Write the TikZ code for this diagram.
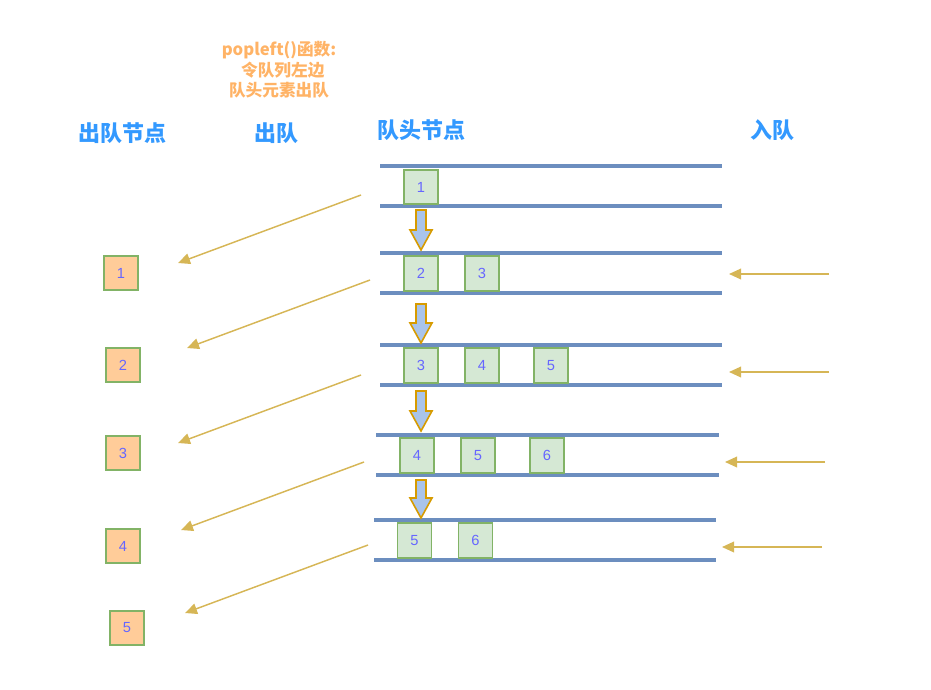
\documentclass[tikz,border=0pt]{standalone}
\usepackage{fontspec}
\setmainfont{Liberation Sans}
\newfontfamily\cjk{Noto Sans CJK SC}
\usetikzlibrary{arrows.meta}
\definecolor{qblue}{HTML}{6C8EBF}
\definecolor{gfill}{HTML}{D5E8D4}
\definecolor{gdraw}{HTML}{82B366}
\definecolor{ofill}{HTML}{FFCC99}
\definecolor{gold}{HTML}{D6B656}
\definecolor{afill}{HTML}{A9C4EB}
\definecolor{adraw}{HTML}{D79B00}
\definecolor{ttl}{HTML}{3399FF}
\definecolor{note}{HTML}{FFB366}
\definecolor{num}{HTML}{6666FF}
\begin{document}
\begin{tikzpicture}[x=0.75pt,y=-0.75pt,
  qbox/.style={draw=gdraw,fill=gfill,line width=1.3pt,minimum width=25.5pt,minimum height=26pt,inner sep=0pt,text=num,font=\fontsize{11}{12}\selectfont},
  obox/.style={qbox,fill=ofill},
  qline/.style={draw=qblue,line width=2.6pt},
  parr/.style={draw=gold,line width=1.1pt,-{Triangle[length=9pt,width=8pt,fill=gold]}},
  ttlstyle/.style={text=ttl,font=\cjk\bfseries\fontsize{16.5}{18}\selectfont},
  notestyle/.style={text=note,font=\cjk\bfseries\fontsize{12.5}{15.5}\selectfont,align=center},
  darr/.style={draw=adraw,fill=afill,line width=1.2pt,line join=miter}]
\useasboundingbox (0,0) rectangle (931,689);
% titles
\node[ttlstyle] (t1) at (122,133) {出队节点};
\node[ttlstyle] (t2) at (276,133) {出队};
\node[ttlstyle] (t3) at (421,130) {队头节点};
\node[ttlstyle] (t4) at (772,130) {入队};
\node[notestyle] (n1) at (279,70) {popleft()函数:\\ \ \ 令队列左边\\ 队头元素出队};
% queue lines
\foreach \i/\xa/\xb/\ya/\yb in {1/380/722/166/206,2/380/722/253/293,3/380/722/345/385,4/376/719/435/475,5/374/716/520/560}{
  \draw[qline] (\xa,\ya) -- (\xb,\ya);
  \draw[qline] (\xa,\yb) -- (\xb,\yb);
}
% queue boxes
\node[qbox] (r1a) at (421,187) {1};
\node[qbox] (r2a) at (421,273.5) {2};
\node[qbox] (r2b) at (482,273.5) {3};
\node[qbox] (r3a) at (421,365.5) {3};
\node[qbox] (r3b) at (482,365.5) {4};
\node[qbox] (r3c) at (551,365.5) {5};
\node[qbox] (r4a) at (417,455.5) {4};
\node[qbox] (r4b) at (478,455.5) {5};
\node[qbox] (r4c) at (547,455.5) {6};
\node[qbox] (r5a) at (414.5,540.5) {5};
\node[qbox] (r5b) at (475.5,540.5) {6};
% dequeued boxes
\node[obox] (o1) at (121,273) {1};
\node[obox] (o2) at (123,365) {2};
\node[obox] (o3) at (123,453) {3};
\node[obox] (o4) at (123,546) {4};
\node[obox] (o5) at (127,628) {5};
% down arrows
\foreach \cx/\ya/\yb in {421/210/250,421/304/343,421/391/431,421/480/518}{
  \draw[darr] (\cx-5,\ya) -- (\cx+5,\ya) -- (\cx+5,\yb-20) -- (\cx+11,\yb-20) -- (\cx,\yb) -- (\cx-11,\yb-20) -- (\cx-5,\yb-20) -- cycle;
}
% dequeue arrows
\coordinate (d1s) at (361,195); \coordinate (d1e) at (178,263);
\coordinate (d2s) at (370,280); \coordinate (d2e) at (187,348);
\coordinate (d3s) at (361,375); \coordinate (d3e) at (178,443);
\coordinate (d4s) at (364,462); \coordinate (d4e) at (181,530);
\coordinate (d5s) at (368,545); \coordinate (d5e) at (185,613);
\foreach \k in {1,...,5}{\draw[parr] (d\k s) -- (d\k e);}
% enqueue arrows
\coordinate (e1s) at (829,274); \coordinate (e1e) at (729,274);
\coordinate (e2s) at (829,372); \coordinate (e2e) at (729,372);
\coordinate (e3s) at (825,462); \coordinate (e3e) at (725,462);
\coordinate (e4s) at (822,547); \coordinate (e4e) at (722,547);
\foreach \k in {1,...,4}{\draw[parr] (e\k s) -- (e\k e);}
\end{tikzpicture}
\end{document}
